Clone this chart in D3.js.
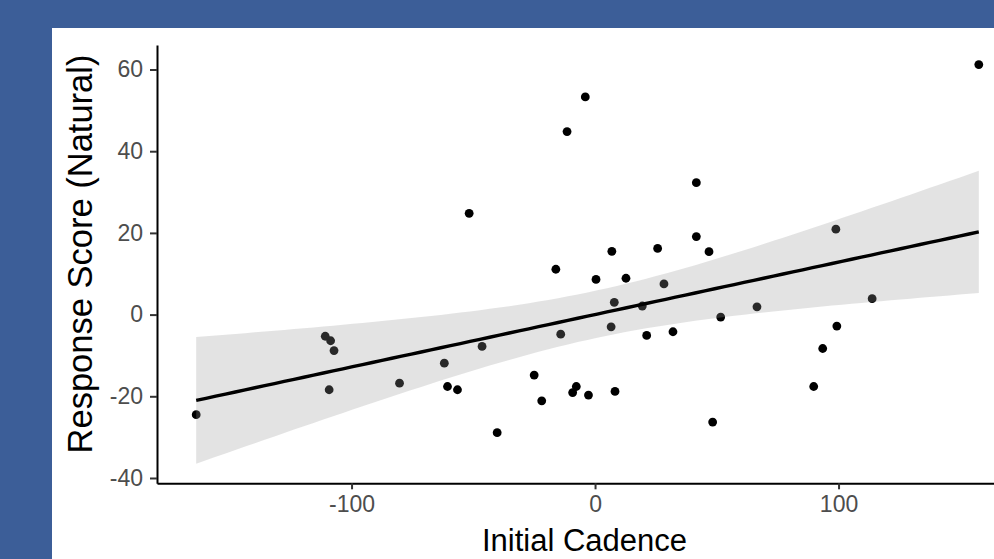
<!DOCTYPE html>
<html>
<head>
<meta charset="utf-8">
<script src="https://cdn.jsdelivr.net/npm/d3@7"></script>
<style>
  body { margin: 0; background: #3c5e98; }
  svg { display: block; }
  text { font-family: "Liberation Sans", Arial, sans-serif; }
</style>
</head>
<body>
<script>
// initial cadence (x) and natural response score (y), one entry per subject
var cadence = [-163.8, -110.8, -108.6, -107.2, -109.2, -80.3, -61.9, -60.6, -56.5, -51.7,
  -46.4, -40.2, -25.0, -21.9, -16.1, -14.1, -11.5, -9.2, -7.7, -4.0,
  -2.7, 0.4, 6.9, 6.6, 7.9, 8.2, 12.7, 19.4, 21.2, 25.7,
  28.3, 32.0, 41.6, 41.6, 46.8, 48.3, 51.6, 66.5, 89.8, 93.5,
  98.9, 99.3, 113.8, 157.6];
var response = [-24.5, -5.3, -6.4, -8.8, -18.4, -16.8, -11.9, -17.6, -18.4, 24.8,
  -7.8, -28.9, -14.8, -21.1, 11.1, -4.8, 44.8, -19.1, -17.6, 53.3,
  -19.7, 8.6, 15.5, -3.0, 3.0, -18.8, 8.9, 2.1, -5.1, 16.2,
  7.5, -4.2, 32.3, 19.1, 15.4, -26.3, -0.6, 1.9, -17.6, -8.3,
  20.9, -2.8, 3.9, 61.2];
var xTicks = [-100, 0, 100];
var yTicks = [-40, -20, 0, 20, 40, 60];
var xDomain = [-179.9, 173.7];
var yDomain = [-41.3, 66.0];
var tCrit = 2.018; // t(0.975, df = 42)

var W = 994, H = 559;
var panel = {left: 157, right: 1018, top: 45, bottom: 483.3};

var svg = d3.select("body").append("svg")
  .attr("width", W).attr("height", H);

svg.append("rect").attr("width", W).attr("height", H).attr("fill", "#3c5e98");
svg.append("rect").attr("x", 52).attr("y", 28)
  .attr("width", W - 52).attr("height", H - 28).attr("fill", "#ffffff");

var x = d3.scaleLinear().domain(xDomain).range([panel.left, panel.right]);
var y = d3.scaleLinear().domain(yDomain).range([panel.bottom, panel.top]);

// points
var pts = cadence.map(function(c, i) { return {x: c, y: response[i]}; });
svg.append("g").selectAll("circle").data(pts).enter().append("circle")
  .attr("cx", function(d) { return x(d.x); })
  .attr("cy", function(d) { return y(d.y); })
  .attr("r", 4.4)
  .attr("fill", "#000");

// linear fit with 95% confidence band (like geom_smooth(method = "lm"))
var n = pts.length;
var mx = d3.mean(cadence), my = d3.mean(response);
var sxx = d3.sum(cadence, function(c) { return (c - mx) * (c - mx); });
var sxy = d3.sum(pts, function(d) { return (d.x - mx) * (d.y - my); });
var slope = sxy / sxx, icpt = my - slope * mx;
var sse = d3.sum(pts, function(d) { var r = d.y - (icpt + slope * d.x); return r * r; });
var s = Math.sqrt(sse / (n - 2));
var xmin = d3.min(cadence), xmax = d3.max(cadence);
var fit = d3.range(81).map(function(k) {
  var xv = xmin + (xmax - xmin) * k / 80;
  var yv = icpt + slope * xv;
  var se = s * Math.sqrt(1 / n + (xv - mx) * (xv - mx) / sxx);
  return {x: xv, y: yv, lo: yv - tCrit * se, hi: yv + tCrit * se};
});

svg.append("path").datum(fit)
  .attr("d", d3.area().x(function(d) { return x(d.x); })
    .y0(function(d) { return y(d.lo); }).y1(function(d) { return y(d.hi); }))
  .attr("fill", "#999999").attr("fill-opacity", 0.27);

svg.append("path").datum(fit)
  .attr("d", d3.line().x(function(d) { return x(d.x); }).y(function(d) { return y(d.y); }))
  .attr("fill", "none").attr("stroke", "#000").attr("stroke-width", 3.4);

// axes (plain hyphen for negatives, as in the original)
var fmt = function(d) { return String(d); };
var gx = svg.append("g").attr("transform", "translate(0," + panel.bottom + ")")
  .call(d3.axisBottom(x).tickValues(xTicks).tickFormat(fmt).tickSize(6).tickPadding(6).tickSizeOuter(0));
var gy = svg.append("g").attr("transform", "translate(" + panel.left + ",0)")
  .call(d3.axisLeft(y).tickValues(yTicks).tickFormat(fmt).tickSize(7).tickPadding(7).tickSizeOuter(0));

[gx, gy].forEach(function(g) {
  g.select(".domain").attr("stroke", "#000").attr("stroke-width", 2);
  g.selectAll(".tick line").attr("stroke", "#333").attr("stroke-width", 2);
  g.selectAll(".tick text").attr("fill", "#4d4d4d").style("font-size", "23px")
    .style("font-family", "'Liberation Sans', Arial, sans-serif");
});

svg.append("text")
  .attr("x", (panel.left + panel.right) / 2 - 3).attr("y", 551)
  .attr("text-anchor", "middle")
  .style("font-size", "31px")
  .text("Initial Cadence");

svg.append("text")
  .attr("transform", "translate(92,254) rotate(-90)")
  .attr("text-anchor", "middle")
  .style("font-size", "34.5px")
  .text("Response Score (Natural)");
</script>
</body>
</html>
